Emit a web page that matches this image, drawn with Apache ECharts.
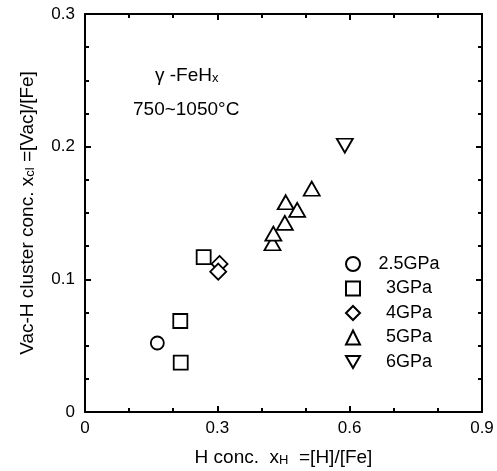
<!DOCTYPE html>
<html>
<head>
<meta charset="utf-8">
<script src="https://cdn.jsdelivr.net/npm/echarts@6/dist/echarts.min.js"></script>
<style>
  html, body { margin: 0; padding: 0; background: #fff; }
  #chart { width: 497px; height: 471px; }
</style>
</head>
<body>
<div id="chart"></div>
<script>
// pressure groups and their points [xH, xcl]
var seriesNames = ["2.5GPa", "3GPa", "4GPa", "5GPa", "6GPa"];
var p25 = [[0.164, 0.052]];
var p3 = [[0.216, 0.0686], [0.217, 0.0372], [0.269, 0.1168]];
var p4 = [[0.305, 0.1116], [0.302, 0.1058]];
var p5 = [[0.425, 0.1272], [0.427, 0.1344], [0.453, 0.1425], [0.455, 0.1581], [0.481, 0.1523], [0.514, 0.1683]];
var p6 = [[0.589, 0.2007]];
var xTicks = [0, 0.3, 0.6, 0.9];
var yTicks = [0, 0.1, 0.2, 0.3];

var font = "Liberation Sans, Arial, sans-serif";
var chart = echarts.init(document.getElementById("chart"));

var invTri = "path://M0,0 L10,0 L5,8.7 Z";
var symbols = ["circle", "rect", "diamond", "triangle", invTri];
var sizes = [13, 14, 16, [16, 14], [16, 14]];
var datas = [p25, p3, p4, p5, p6];

function axisBase(isX, pos, show) {
  var ticks = isX ? xTicks : yTicks;
  return {
    type: "value",
    position: pos,
    min: ticks[0],
    max: ticks[ticks.length - 1],
    interval: ticks[1] - ticks[0],
    splitLine: { show: false },
    axisLine: { show: true, onZero: false, lineStyle: { color: "#000", width: 2 } },
    axisTick: { show: true, inside: true, length: 6, lineStyle: { color: "#000", width: 2 } },
    minorTick: { show: true, splitNumber: isX ? 3 : 4, length: 4, lineStyle: { color: "#000", width: 2 } },
    axisLabel: {
      show: show,
      color: "#000",
      fontFamily: font,
      fontSize: 17,
      margin: isX ? 8 : 10,
      formatter: function (v) { return v === 0 ? "0" : String(+v.toFixed(1)); }
    }
  };
}

var subStyle = { fontSize: 13, fontFamily: font, color: "#000", verticalAlign: "bottom", lineHeight: 10 };

var xBottom = axisBase(true, "bottom", true);
xBottom.name = "H conc.  x{sub|H}  =[H]/[Fe]";
xBottom.nameLocation = "middle";
xBottom.nameGap = 36;
xBottom.nameTextStyle = { color: "#000", fontFamily: font, fontSize: 19, rich: { sub: subStyle } };

var yLeft = axisBase(false, "left", true);
yLeft.name = "Vac-H cluster conc. x{sub|cl} =[Vac]/[Fe]";
yLeft.nameLocation = "middle";
yLeft.nameGap = 48;
yLeft.nameTextStyle = { color: "#000", fontFamily: font, fontSize: 19, rich: { sub: subStyle } };

var series = seriesNames.map(function (n, i) {
  return {
    name: n,
    type: "scatter",
    symbol: symbols[i],
    symbolSize: sizes[i],
    data: datas[i],
    itemStyle: { color: "#fff", borderColor: "#000", borderWidth: 1.8, opacity: 1 },
    emphasis: { disabled: true }
  };
});

chart.setOption({
  animation: false,
  backgroundColor: "#fff",
  grid: { left: 85, right: 15, top: 14, bottom: 59, outerBoundsMode: "none" },
  xAxis: [xBottom, axisBase(true, "top", false)],
  yAxis: [yLeft, axisBase(false, "right", false)],
  legend: {
    orient: "vertical",
    left: 340,
    top: 250,
    itemWidth: 14,
    itemHeight: 14,
    itemGap: 6.5,
    data: seriesNames,
    formatter: function (n) { return "{t|" + n + "}"; },
    textStyle: {
      color: "#000", fontFamily: font, fontSize: 18,
      rich: { t: { width: 88, align: "center", fontSize: 18, fontFamily: font, color: "#000", lineHeight: 18 } }
    }
  },
  graphic: [
    {
      type: "text", left: 155, top: 66,
      style: {
        text: "\u03b3 -FeH{sub|x}",
        fontFamily: font, fontSize: 19, fill: "#000",
        rich: { sub: { fontSize: 13, fontFamily: font, fill: "#000", verticalAlign: "bottom", lineHeight: 10 } }
      }
    },
    {
      type: "text", left: 133, top: 100,
      style: { text: "750~1050\u00b0C", fontFamily: font, fontSize: 19, fill: "#000" }
    }
  ],
  series: series
});
</script>
</body>
</html>
